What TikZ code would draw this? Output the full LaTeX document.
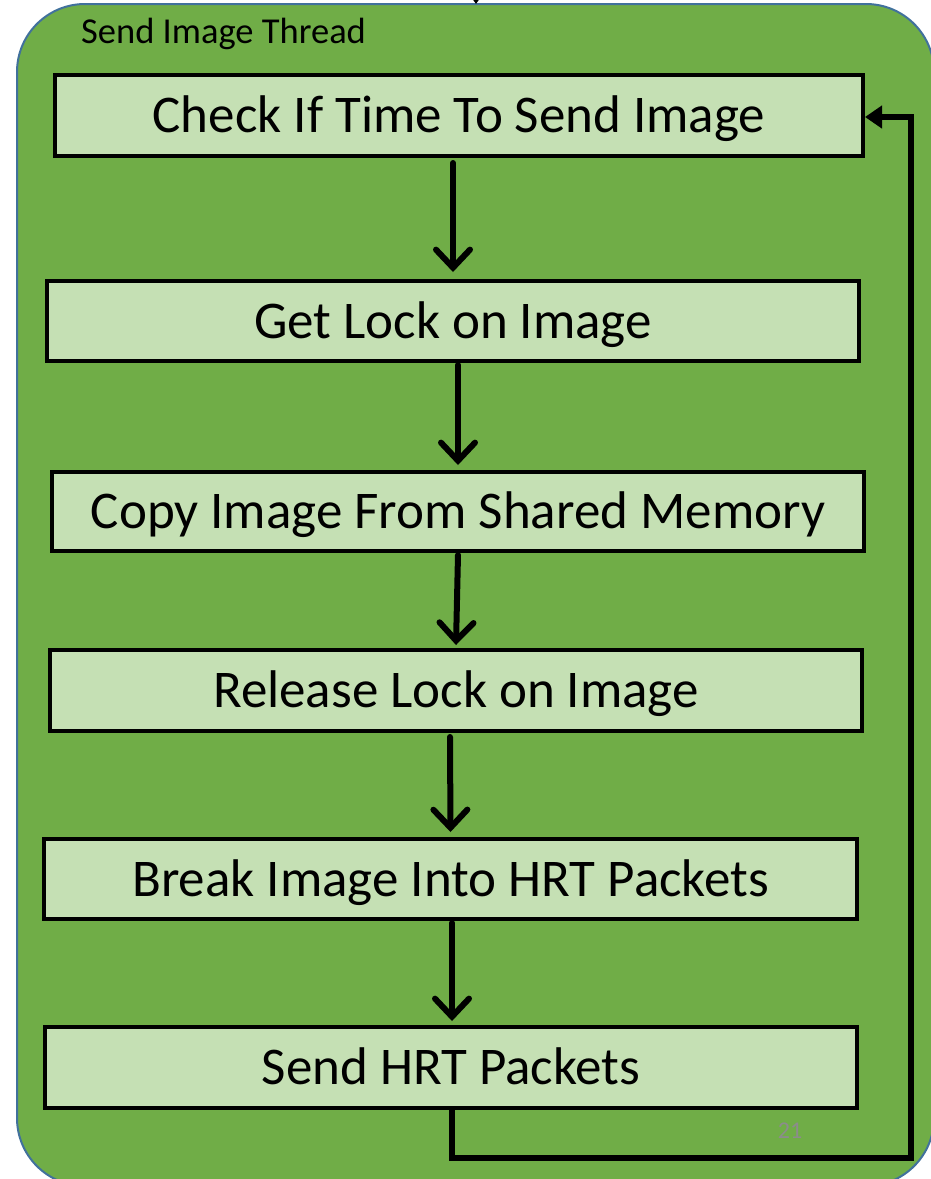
\documentclass[tikz,border=0pt]{standalone}
\usepackage{fontspec}
\setmainfont{Carlito}
\usetikzlibrary{arrows.meta,calc}
\definecolor{threadgreen}{HTML}{70AD47}
\definecolor{threadedge}{HTML}{41719C}
\definecolor{stepfill}{HTML}{C5E0B4}
\definecolor{pagegray}{HTML}{8C8C8C}
\tikzset{
  stepbox/.style={draw=black, fill=stepfill, line width=4pt, inner sep=0pt,
    text height=37pt, text depth=3pt,
    minimum width=812pt, minimum height=80pt, font=\fontsize{53}{60}\selectfont},
  flow/.style={line width=6pt, line cap=round,
    -{Straight Barb[length=18pt,width=34pt,line width=6pt,line cap=round]}},
  loopback/.style={line width=6.5pt, line join=miter,
    -{Triangle[length=17pt,width=22pt]}},
}
\begin{document}
\begin{tikzpicture}[x=1pt,y=-1pt]
  \useasboundingbox (0,0) rectangle (931,1179);
  \clip (0,0) rectangle (931,1179);

  % thread container
  \draw[threadgreen, fill=threadgreen, draw=threadedge, line width=2pt, rounded corners=68pt]
    (17,4) rectangle (934,1186);
  \node[anchor=base west, inner sep=0pt, font=\fontsize{36.5}{42}\selectfont] (title) at (81,43) {Send Image Thread};

  % incoming arrow at the top edge
  \coordinate (inA) at (476,-30);
  \coordinate (inB) at (476,4);
  \draw[line width=5pt, -{Triangle[length=12pt,width=16pt]}] (inA) -- (inB);

  % steps
  \node[stepbox, minimum width=808pt, minimum height=81pt] (b1) at (459,115.5) {Check If Time To Send Image};
  \node[stepbox, minimum width=812pt, minimum height=80pt] (b2) at (453,321) {Get Lock on Image};
  \node[stepbox, minimum width=812pt, minimum height=79pt] (b3) at (458,511.5) {Copy Image From Shared Memory};
  \node[stepbox, minimum width=812pt, minimum height=81pt] (b4) at (456,690.5) {Release Lock on Image};
  \node[stepbox, minimum width=813pt, minimum height=80pt] (b5) at (450.5,879) {Break Image Into HRT Packets};
  \node[stepbox, minimum width=812pt, minimum height=81pt] (b6) at (451,1067.5) {Send HRT Packets};

  % forward arrows
  \draw[flow] ([xshift=-6pt,yshift=-5pt]b1.south) -- ([yshift=7pt]b2.north);
  \draw[flow] ([xshift=5pt,yshift=-2pt]b2.south) -- ([yshift=5pt]b3.north);
  \draw[flow] ([yshift=-2pt]b3.south) -- ([xshift=0pt,yshift=3pt]b4.north);
  \draw[flow] ([xshift=-6pt,yshift=-4pt]b4.south) -- ([yshift=5pt]b5.north);
  \draw[flow] ([xshift=1.5pt,yshift=-2pt]b5.south) -- ([xshift=1pt,yshift=4pt]b6.north);

  % loop back to the first step
  \coordinate (corner) at (911,1158);
  \draw[loopback] ([xshift=1pt]b6.south) |- (corner) |- ([yshift=-1.5pt]b1.east);

  % slide number
  \node[text=pagegray, font=\fontsize{24}{28}\selectfont, inner sep=0pt] (pgnum) at (790,1131) {21};
\end{tikzpicture}
\end{document}
